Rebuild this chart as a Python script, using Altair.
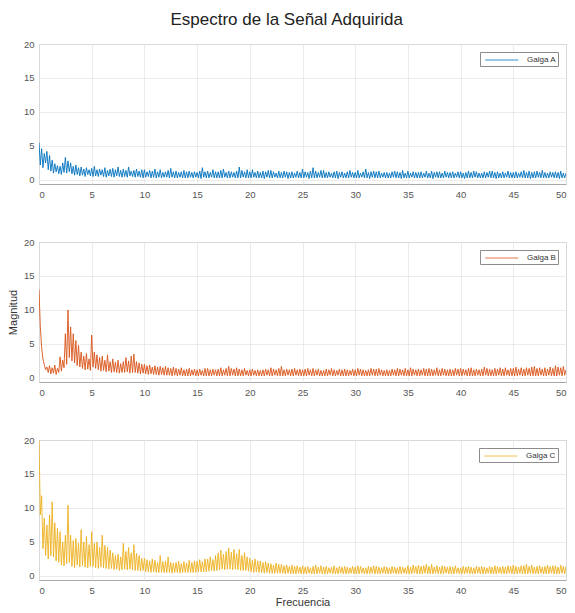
import altair as alt
import pandas as pd

# Frequency grid step (Hz) of the read-off samples (8 samples per Hz row)
FREQ_STEP = 0.125

GALGA_A = [
    5.5, 2.2, 4.6, 1.8, 3.9, 2.5, 4.2, 1.5,
    3.6, 1.3, 2.9, 1.0, 2.4, 1.2, 2.1, 0.9,
    2.0, 0.8, 2.5, 1.1, 3.3, 1.0, 2.8, 1.2,
    2.5, 0.9, 2.0, 0.7, 2.2, 0.8, 1.8, 0.6,
    1.9, 0.7, 1.6, 0.5, 1.8, 0.8, 1.5, 0.6,
    1.7, 0.5, 2.0, 0.6, 1.5, 0.5, 1.6, 0.7,
    1.5, 0.5, 1.8, 0.4, 1.4, 0.6, 1.6, 0.5,
    1.7, 0.4, 1.5, 0.6, 1.9, 0.5, 1.4, 0.4,
    1.6, 0.5, 1.4, 0.4, 1.9, 0.6, 1.3, 0.5,
    1.4, 0.4, 1.6, 0.5, 1.3, 0.4, 1.5, 0.3,
    1.5, 0.4, 1.2, 0.5, 1.4, 0.3, 1.3, 0.4,
    1.6, 0.3, 1.2, 0.4, 1.5, 0.3, 1.1, 0.4,
    1.2, 0.4, 1.4, 0.3, 1.7, 0.4, 1.2, 0.3,
    1.3, 0.3, 1.1, 0.4, 1.2, 0.3, 1.4, 0.3,
    1.2, 0.3, 1.3, 0.4, 1.1, 0.3, 1.2, 0.4,
    1.1, 0.3, 1.3, 0.2, 1.8, 0.4, 1.2, 0.3,
    1.3, 0.3, 1.1, 0.4, 1.5, 0.3, 1.2, 0.3,
    1.2, 0.3, 1.4, 0.3, 1.6, 0.4, 1.1, 0.3,
    1.3, 0.3, 1.2, 0.4, 1.1, 0.3, 1.3, 0.3,
    1.9, 0.3, 1.4, 0.4, 1.2, 0.3, 1.5, 0.3,
    1.2, 0.3, 1.5, 0.4, 1.1, 0.3, 1.3, 0.3,
    1.1, 0.3, 1.3, 0.2, 1.2, 0.4, 1.4, 0.3,
    1.4, 0.3, 1.2, 0.4, 1.0, 0.3, 1.3, 0.3,
    1.1, 0.3, 1.3, 0.4, 1.2, 0.2, 1.1, 0.3,
    1.2, 0.3, 1.0, 0.4, 1.3, 0.3, 1.1, 0.3,
    1.6, 0.3, 1.2, 0.4, 1.1, 0.2, 1.3, 0.3,
    1.8, 0.3, 1.3, 0.3, 1.1, 0.4, 1.4, 0.3,
    1.4, 0.3, 1.1, 0.3, 1.2, 0.4, 1.0, 0.3,
    1.2, 0.3, 1.3, 0.2, 1.1, 0.4, 1.2, 0.3,
    1.0, 0.3, 1.2, 0.3, 1.4, 0.4, 1.1, 0.3,
    1.1, 0.3, 1.4, 0.3, 1.0, 0.4, 1.2, 0.3,
    1.6, 0.3, 1.1, 0.2, 1.2, 0.4, 1.3, 0.3,
    1.2, 0.3, 1.3, 0.3, 1.0, 0.4, 1.1, 0.3,
    1.1, 0.3, 1.0, 0.3, 1.2, 0.4, 1.3, 0.3,
    1.2, 0.3, 1.1, 0.2, 1.4, 0.3, 1.0, 0.3,
    1.3, 0.3, 1.0, 0.4, 1.2, 0.3, 1.1, 0.3,
    1.1, 0.3, 1.2, 0.3, 1.0, 0.4, 1.3, 0.3,
    1.0, 0.3, 1.3, 0.2, 1.1, 0.4, 1.2, 0.3,
    1.2, 0.3, 1.0, 0.3, 1.3, 0.4, 1.1, 0.3,
    1.1, 0.3, 1.2, 0.3, 1.0, 0.4, 1.2, 0.3,
    1.2, 0.3, 1.0, 0.2, 1.1, 0.3, 1.3, 0.3,
    1.1, 0.3, 1.3, 0.4, 1.2, 0.3, 1.0, 0.3,
    1.0, 0.3, 1.2, 0.3, 1.1, 0.4, 1.3, 0.3,
    1.3, 0.3, 1.1, 0.2, 1.2, 0.3, 1.0, 0.3,
    1.2, 0.3, 1.0, 0.4, 1.3, 0.3, 1.1, 0.3,
    1.1, 0.3, 1.2, 0.3, 1.0, 0.4, 1.2, 0.3,
    1.4, 0.3, 1.1, 0.3, 1.3, 0.2, 1.1, 0.3,
    1.2, 0.3, 1.3, 0.4, 1.1, 0.3, 1.4, 0.3,
    1.1, 0.3, 1.0, 0.3, 1.2, 0.4, 1.1, 0.3,
    1.2, 0.3, 1.1, 0.2, 1.3, 0.3, 1.0, 0.3,
    1.0,
]

GALGA_B = [
    13.0, 7.5, 4.5, 2.8, 2.0, 1.2, 1.6, 0.8,
    1.8, 0.6, 1.5, 0.7, 1.9, 0.5, 1.4, 0.8,
    3.1, 1.0, 2.6, 1.5, 6.5, 2.0, 10.0, 3.0,
    7.5, 2.5, 6.5, 2.2, 5.5, 1.8, 4.8, 1.6,
    3.8, 1.4, 3.2, 1.2, 3.6, 1.3, 2.8, 1.1,
    6.3, 1.6, 3.8, 1.4, 3.4, 1.2, 3.0, 1.0,
    3.2, 1.1, 2.6, 0.9, 3.4, 1.0, 2.4, 0.8,
    2.8, 0.9, 2.3, 0.8, 2.6, 0.7, 2.1, 0.8,
    2.4, 0.8, 3.0, 0.9, 2.5, 0.7, 3.2, 0.8,
    3.5, 0.8, 2.4, 0.7, 2.2, 0.6, 2.0, 0.7,
    2.0, 0.6, 1.8, 0.5, 1.9, 0.6, 1.6, 0.5,
    1.8, 0.5, 1.6, 0.4, 1.7, 0.5, 1.5, 0.4,
    1.7, 0.4, 1.5, 0.4, 1.4, 0.3, 1.6, 0.4,
    1.4, 0.3, 1.3, 0.4, 1.5, 0.3, 1.2, 0.3,
    1.3, 0.3, 1.4, 0.3, 1.2, 0.4, 1.3, 0.3,
    1.2, 0.3, 1.3, 0.4, 1.1, 0.3, 1.4, 0.3,
    1.4, 0.3, 1.2, 0.3, 1.3, 0.4, 1.2, 0.3,
    1.3, 0.3, 1.5, 0.3, 1.2, 0.4, 1.4, 0.3,
    1.7, 0.3, 1.4, 0.4, 1.3, 0.3, 1.5, 0.3,
    1.3, 0.3, 1.2, 0.3, 1.4, 0.4, 1.1, 0.3,
    1.2, 0.3, 1.3, 0.4, 1.1, 0.3, 1.2, 0.3,
    1.1, 0.3, 1.2, 0.3, 1.3, 0.4, 1.2, 0.3,
    1.5, 0.3, 1.3, 0.4, 1.2, 0.3, 1.4, 0.3,
    1.7, 0.3, 1.2, 0.3, 1.3, 0.4, 1.2, 0.3,
    1.3, 0.3, 1.4, 0.4, 1.2, 0.3, 1.3, 0.3,
    1.2, 0.3, 1.3, 0.3, 1.4, 0.4, 1.2, 0.3,
    1.4, 0.3, 1.2, 0.4, 1.3, 0.3, 1.1, 0.3,
    1.1, 0.3, 1.3, 0.3, 1.2, 0.4, 1.4, 0.3,
    1.2, 0.3, 1.1, 0.4, 1.3, 0.3, 1.2, 0.3,
    1.3, 0.3, 1.2, 0.3, 1.1, 0.4, 1.3, 0.3,
    1.2, 0.3, 1.4, 0.4, 1.3, 0.3, 1.2, 0.3,
    1.1, 0.3, 1.2, 0.3, 1.4, 0.4, 1.3, 0.3,
    1.3, 0.3, 1.4, 0.4, 1.2, 0.3, 1.1, 0.3,
    1.2, 0.3, 1.1, 0.3, 1.3, 0.4, 1.2, 0.3,
    1.4, 0.3, 1.3, 0.4, 1.2, 0.3, 1.4, 0.3,
    1.2, 0.3, 1.5, 0.3, 1.3, 0.4, 1.2, 0.3,
    1.3, 0.3, 1.2, 0.4, 1.4, 0.3, 1.3, 0.3,
    1.4, 0.3, 1.3, 0.3, 1.2, 0.4, 1.5, 0.3,
    1.2, 0.3, 1.4, 0.4, 1.3, 0.3, 1.2, 0.3,
    1.3, 0.3, 1.2, 0.3, 1.4, 0.4, 1.3, 0.3,
    1.4, 0.3, 1.3, 0.4, 1.2, 0.3, 1.4, 0.3,
    1.5, 0.3, 1.2, 0.3, 1.3, 0.4, 1.2, 0.3,
    1.3, 0.3, 1.6, 0.4, 1.4, 0.3, 1.3, 0.3,
    1.2, 0.3, 1.4, 0.3, 1.3, 0.4, 1.5, 0.3,
    1.3, 0.3, 1.5, 0.4, 1.2, 0.3, 1.4, 0.3,
    1.4, 0.3, 1.6, 0.3, 1.3, 0.4, 1.5, 0.3,
    1.3, 0.3, 1.5, 0.4, 1.4, 0.3, 1.6, 0.3,
    1.7, 0.3, 1.4, 0.3, 1.5, 0.4, 1.3, 0.3,
    1.5, 0.3, 1.3, 0.4, 1.6, 0.3, 1.4, 0.3,
    1.8, 0.3, 1.6, 0.4, 1.5, 0.3, 1.7, 0.4,
    1.2,
]

GALGA_C = [
    20.0, 9.0, 11.8, 4.0, 8.5, 3.0, 7.5, 2.5,
    9.0, 3.0, 10.9, 2.8, 7.8, 2.2, 7.0, 2.0,
    6.5, 1.6, 5.0, 1.5, 6.0, 1.8, 10.4, 2.0,
    6.0, 1.4, 5.2, 1.2, 5.5, 1.6, 4.8, 1.3,
    6.8, 1.5, 5.0, 1.3, 5.8, 1.2, 4.6, 1.4,
    6.5, 1.4, 4.8, 1.2, 5.0, 1.1, 4.2, 1.3,
    6.0, 1.2, 4.5, 1.1, 4.2, 1.0, 3.8, 1.1,
    3.4, 0.9, 3.0, 1.0, 3.2, 0.8, 2.8, 0.9,
    4.8, 1.0, 3.6, 0.9, 4.2, 1.0, 3.4, 0.9,
    4.6, 0.8, 3.3, 0.8, 3.0, 0.7, 2.6, 0.8,
    2.6, 0.6, 2.4, 0.6, 2.2, 0.5, 2.5, 0.6,
    2.3, 0.5, 2.0, 0.5, 3.0, 0.5, 2.1, 0.5,
    2.2, 0.5, 2.8, 0.5, 2.0, 0.4, 1.9, 0.5,
    2.0, 0.5, 2.2, 0.4, 1.8, 0.5, 2.1, 0.5,
    1.9, 0.5, 2.3, 0.5, 2.0, 0.5, 2.2, 0.5,
    2.2, 0.6, 2.4, 0.6, 2.1, 0.6, 2.5, 0.6,
    2.5, 0.7, 2.8, 0.8, 2.4, 0.7, 3.0, 0.8,
    3.4, 0.9, 3.8, 1.0, 3.2, 0.9, 3.6, 1.0,
    4.1, 1.0, 3.5, 0.9, 3.9, 1.0, 3.3, 0.9,
    3.9, 0.8, 3.0, 0.8, 3.4, 0.8, 2.8, 0.7,
    2.6, 0.6, 2.3, 0.5, 2.5, 0.6, 2.2, 0.5,
    2.2, 0.5, 2.0, 0.4, 2.1, 0.5, 1.9, 0.4,
    1.8, 0.4, 1.6, 0.4, 1.9, 0.4, 1.7, 0.4,
    1.7, 0.4, 1.5, 0.3, 1.6, 0.4, 1.4, 0.3,
    1.6, 0.3, 1.4, 0.3, 1.5, 0.4, 1.3, 0.3,
    1.5, 0.3, 1.3, 0.3, 1.4, 0.4, 1.2, 0.3,
    1.4, 0.3, 1.6, 0.3, 1.3, 0.4, 1.5, 0.3,
    1.3, 0.3, 1.4, 0.3, 1.2, 0.4, 1.3, 0.3,
    1.5, 0.3, 1.2, 0.3, 1.4, 0.4, 1.3, 0.3,
    1.4, 0.3, 1.3, 0.3, 1.2, 0.4, 1.4, 0.3,
    1.3, 0.3, 1.5, 0.3, 1.4, 0.4, 1.2, 0.3,
    1.2, 0.3, 1.4, 0.3, 1.3, 0.4, 1.5, 0.3,
    1.4, 0.3, 1.3, 0.3, 1.2, 0.4, 1.4, 0.3,
    1.3, 0.3, 1.2, 0.3, 1.4, 0.4, 1.3, 0.3,
    1.2, 0.3, 1.4, 0.3, 1.3, 0.4, 1.2, 0.3,
    1.5, 0.3, 1.3, 0.3, 1.6, 0.4, 1.4, 0.3,
    1.6, 0.3, 1.4, 0.3, 1.5, 0.4, 1.7, 0.3,
    1.4, 0.3, 1.7, 0.3, 1.3, 0.4, 1.5, 0.3,
    1.3, 0.3, 1.5, 0.3, 1.4, 0.4, 1.3, 0.3,
    1.4, 0.3, 1.3, 0.3, 1.5, 0.4, 1.2, 0.3,
    1.2, 0.3, 1.4, 0.3, 1.3, 0.4, 1.4, 0.3,
    1.3, 0.3, 1.2, 0.3, 1.4, 0.4, 1.3, 0.3,
    1.4, 0.3, 1.3, 0.3, 1.2, 0.4, 1.4, 0.3,
    1.3, 0.3, 1.5, 0.3, 1.4, 0.4, 1.3, 0.3,
    1.4, 0.3, 1.3, 0.3, 1.5, 0.4, 1.4, 0.3,
    1.6, 0.3, 1.4, 0.3, 1.3, 0.4, 1.5, 0.3,
    1.5, 0.3, 1.7, 0.3, 1.4, 0.4, 1.6, 0.3,
    1.3, 0.3, 1.4, 0.3, 1.5, 0.4, 1.3, 0.3,
    1.4, 0.3, 1.6, 0.3, 1.4, 0.4, 1.5, 0.3,
    1.5, 0.3, 1.3, 0.3, 1.6, 0.4, 1.4, 0.3,
    1.4,
]

SERIES = ["Galga A", "Galga B", "Galga C"]
COLORS = ["#0072BD", "#D95319", "#EDB120"]
X_TICKS = [0, 5, 10, 15, 20, 25, 30, 35, 40, 45, 50]
Y_TICKS = [0, 5, 10, 15, 20]

FONT = "Liberation Sans"
W, H = 527, 140


def panel(values, name, color, ytitle, xtitle):
    df = pd.DataFrame({
        "Frecuencia": [i * FREQ_STEP for i in range(len(values))],
        "Magnitud": values,
        "serie": [name] * len(values),
    })
    return alt.Chart(df).mark_line(strokeWidth=0.9, clip=True).encode(
        x=alt.X("Frecuencia:Q",
                scale=alt.Scale(domain=[0, 50], nice=False, zero=False),
                axis=alt.Axis(values=X_TICKS, title=xtitle, format="d",
                              titlePadding=2)),
        y=alt.Y("Magnitud:Q",
                scale=alt.Scale(domain=[-0.6, 20], nice=False, zero=False),
                axis=alt.Axis(values=Y_TICKS, title=ytitle, format="d")),
        color=alt.Color("serie:N",
                        scale=alt.Scale(domain=[name], range=[color]),
                        legend=alt.Legend(
                            title=None, orient="top-right", offset=8,
                            strokeColor="#8c8c8c", fillColor="white",
                            padding=2, symbolType="M-0.5,0H5.5", symbolSize=121,
                            symbolStrokeColor=color,
                            symbolFillColor="transparent",
                            symbolStrokeWidth=0.8, labelFontSize=8,
                            labelColor="#333", labelFont=FONT, labelOffset=33)),
    ).properties(width=W, height=H)


c1 = panel(GALGA_A, SERIES[0], COLORS[0], " ", None)
c2 = panel(GALGA_B, SERIES[1], COLORS[1], "Magnitud", None)
c3 = panel(GALGA_C, SERIES[2], COLORS[2], " ", "Frecuencia")

chart = alt.vconcat(c1, c2, c3, spacing=37).resolve_scale(
    color="independent"
).resolve_legend(color="independent").properties(
    title=alt.TitleParams("Espectro de la Señal Adquirida", fontSize=17,
                          font=FONT, fontWeight="normal", color="#222",
                          anchor="middle", offset=10),
    padding={"left": 6, "top": 10, "right": 2, "bottom": 0},
).configure_view(
    stroke="#a8a8a8", strokeWidth=1
).configure_axis(
    grid=True, gridColor="#e6e6e6", gridWidth=0.8,
    domain=False, ticks=False,
    labelFont=FONT, labelFontSize=9.5, labelColor="#555", labelPadding=5,
    titleFont=FONT, titleFontSize=11, titleColor="#333", titleFontWeight="normal",
    titlePadding=5,
)

chart.save("out.html", embed_options={"renderer": "svg", "actions": False})
